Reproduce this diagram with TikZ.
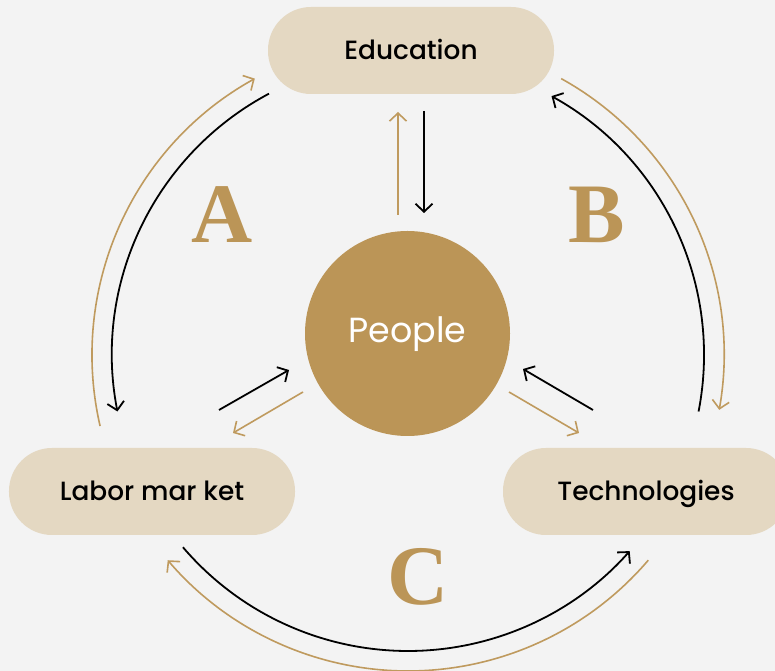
\documentclass[tikz,border=0pt]{standalone}
\usepackage{fontspec}
\setmainfont{Poppins Medium}
\newfontfamily\peoplefont{Poppins}
\newfontfamily\letterfont{Liberation Serif}
\usetikzlibrary{arrows.meta,calc}
\definecolor{bg}{HTML}{F3F3F3}
\definecolor{pill}{HTML}{E4D8C2}
\definecolor{gold}{HTML}{BB9557}
\definecolor{goldline}{HTML}{BF9A5E}
\begin{document}
\begin{tikzpicture}[x=1bp,y=1bp,
  pillbox/.style={rectangle, rounded corners=43bp, fill=pill, minimum width=286bp,
    minimum height=87bp, inner sep=0pt, font=\fontsize{26.5}{30}\selectfont,
    text height=19bp, text depth=0pt},
  arr/.style={-{Straight Barb[length=8bp,width=17bp]}},
  blk/.style={arr, draw=black, line width=1.8bp},
  gld/.style={arr, draw=goldline, line width=1.6bp},
  letter/.style={font=\letterfont\bfseries\fontsize{85}{90}\selectfont, text=gold,
    text height=56bp, text depth=0pt, inner sep=0pt}]
\fill[bg] (0,0) rectangle (775,671);
\useasboundingbox (0,0) rectangle (775,671);
\clip (0,0) rectangle (775,671);
% nodes
\node[pillbox] (edu) at (411,620.5) {Education};
\node[pillbox] (lab) at (152,179.5) {Labor mar ket};
\node[pillbox] (tec) at (646,179.5) {Technologies};
\node[circle, fill=gold, minimum size=205bp, inner sep=0pt, text=white,
  font=\peoplefont\fontsize{35}{40}\selectfont, text height=25bp, text depth=6bp] (ppl) at (407.5,337.5) {People};
\node[letter] (la) at (222,456) {A};
\node[letter] (lb) at (597,456.5) {B};
\node[letter] (lc) at (418,94.5) {C};
% arc centre
\coordinate (O) at (408,316);
% straight connectors
\coordinate (tg1) at (398,456); \coordinate (tg2) at (398,559);
\coordinate (tb1) at (424,560); \coordinate (tb2) at (424,458);
\coordinate (lb1) at (219,261); \coordinate (lb2) at (289,301);
\coordinate (lg1) at (303,279); \coordinate (lg2) at (233,238);
\coordinate (rb1) at (593,261); \coordinate (rb2) at (523,302);
\coordinate (rg1) at (509,279); \coordinate (rg2) at (579,238);
\draw[gld] (tg1) -- (tg2);
\draw[blk] (tb1) -- (tb2);
\draw[blk] (lb1) -- (lb2);
\draw[gld] (lg1) -- (lg2);
\draw[blk] (rb1) -- (rb2);
\draw[gld] (rg1) -- (rg2);
% arcs
\draw[blk] ($(O)+(118:296bp)$) arc[start angle=118, end angle=191, radius=296bp];
\draw[gld] ($(O)+(193:316bp)$) arc[start angle=193, end angle=119, radius=316bp];
\draw[blk] ($(O)+(-11:296bp)$) arc[start angle=-11, end angle=61, radius=296bp];
\draw[gld] ($(O)+(61:316bp)$) arc[start angle=61, end angle=-10, radius=316bp];
\draw[blk] ($(O)+(220.5:296bp)$) arc[start angle=220.5, end angle=318.5, radius=296bp];
\draw[gld] ($(O)+(319.5:316bp)$) arc[start angle=319.5, end angle=220.5, radius=316bp];
\end{tikzpicture}
\end{document}
